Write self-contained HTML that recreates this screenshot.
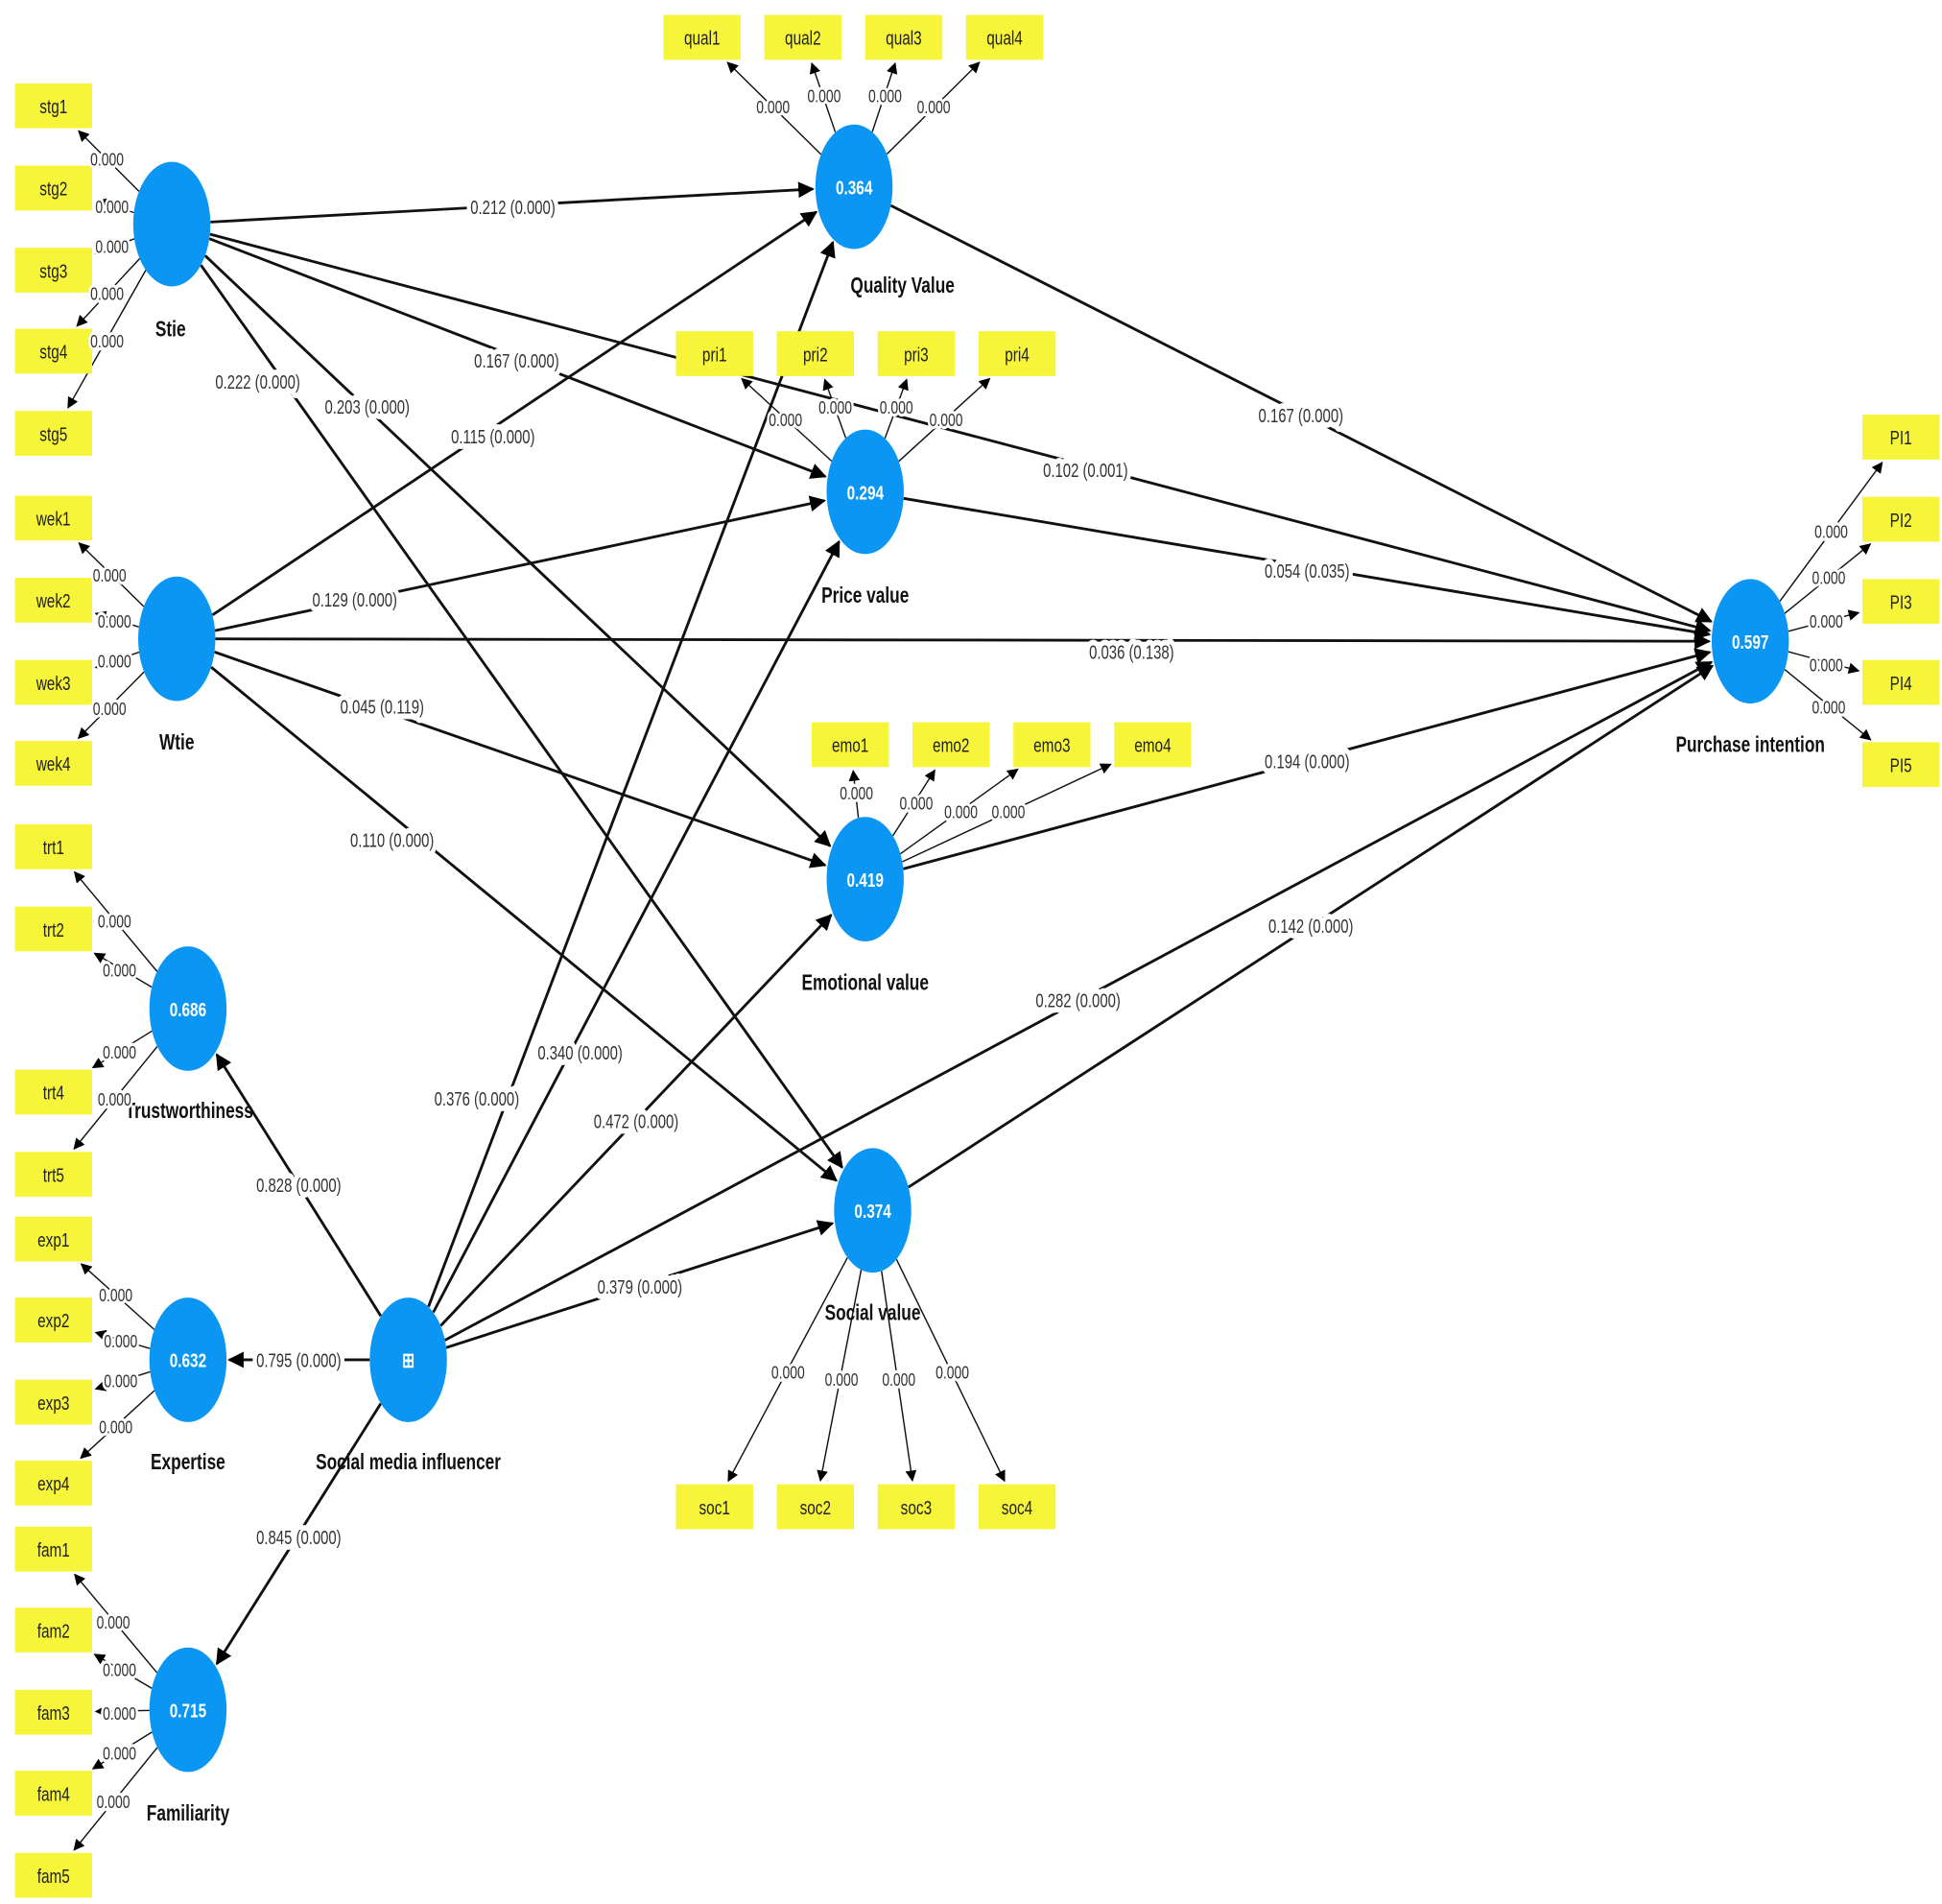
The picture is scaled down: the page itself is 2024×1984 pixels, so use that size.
<!DOCTYPE html>
<html><head><meta charset="utf-8">
<style>
html,body{margin:0;padding:0;background:#fff;}
svg{display:block;}
text{font-family:"Liberation Sans",sans-serif;transform-box:fill-box;transform-origin:center;transform:scaleX(0.74);}
.p{font-size:15.5px;fill:#333;stroke:#fff;stroke-width:9px;stroke-linejoin:round;paint-order:stroke;text-anchor:middle;}
.l{font-size:14.5px;fill:#333;stroke:#fff;stroke-width:5px;stroke-linejoin:round;paint-order:stroke;text-anchor:middle;}
.b{font-size:16px;fill:#222;text-anchor:middle;}
.n{font-size:18px;font-weight:bold;fill:#111;text-anchor:middle;}
.v{font-size:16px;font-weight:bold;fill:#fff;text-anchor:middle;}
</style></head><body>
<svg id="s" width="2024" height="1984" viewBox="0 0 1560 1529" preserveAspectRatio="none" xmlns="http://www.w3.org/2000/svg">
<defs><marker id="a" viewBox="0 0 10 10" refX="9" refY="5" markerWidth="9" markerHeight="9" markerUnits="userSpaceOnUse" orient="auto"><path d="M0,0L10,5L0,10z" fill="#000"/></marker>
<marker id="a2" viewBox="0 0 10 10" refX="9" refY="5" markerWidth="13" markerHeight="13" markerUnits="userSpaceOnUse" orient="auto"><path d="M0,0L10,5L0,10z" fill="#000"/></marker></defs>
<g id="lines"></g>
<g id="circles"></g>
<g id="boxes">
<rect x="12" y="67" width="62" height="36" fill="#f7f53a"/><text class="b" x="43" y="91">stg1</text>
<rect x="12" y="133" width="62" height="36" fill="#f7f53a"/><text class="b" x="43" y="157">stg2</text>
<rect x="12" y="199" width="62" height="36" fill="#f7f53a"/><text class="b" x="43" y="223">stg3</text>
<rect x="12" y="264" width="62" height="36" fill="#f7f53a"/><text class="b" x="43" y="288">stg4</text>
<rect x="12" y="330" width="62" height="36" fill="#f7f53a"/><text class="b" x="43" y="354">stg5</text>
<rect x="12" y="398" width="62" height="36" fill="#f7f53a"/><text class="b" x="43" y="422">wek1</text>
<rect x="12" y="464" width="62" height="36" fill="#f7f53a"/><text class="b" x="43" y="488">wek2</text>
<rect x="12" y="530" width="62" height="36" fill="#f7f53a"/><text class="b" x="43" y="554">wek3</text>
<rect x="12" y="595" width="62" height="36" fill="#f7f53a"/><text class="b" x="43" y="619">wek4</text>
<rect x="12" y="662" width="62" height="36" fill="#f7f53a"/><text class="b" x="43" y="686">trt1</text>
<rect x="12" y="728" width="62" height="36" fill="#f7f53a"/><text class="b" x="43" y="752">trt2</text>
<rect x="12" y="859" width="62" height="36" fill="#f7f53a"/><text class="b" x="43" y="883">trt4</text>
<rect x="12" y="925" width="62" height="36" fill="#f7f53a"/><text class="b" x="43" y="949">trt5</text>
<rect x="12" y="977" width="62" height="36" fill="#f7f53a"/><text class="b" x="43" y="1001">exp1</text>
<rect x="12" y="1042" width="62" height="36" fill="#f7f53a"/><text class="b" x="43" y="1066">exp2</text>
<rect x="12" y="1108" width="62" height="36" fill="#f7f53a"/><text class="b" x="43" y="1132">exp3</text>
<rect x="12" y="1173" width="62" height="36" fill="#f7f53a"/><text class="b" x="43" y="1197">exp4</text>
<rect x="12" y="1226" width="62" height="36" fill="#f7f53a"/><text class="b" x="43" y="1250">fam1</text>
<rect x="12" y="1291" width="62" height="36" fill="#f7f53a"/><text class="b" x="43" y="1315">fam2</text>
<rect x="12" y="1357" width="62" height="36" fill="#f7f53a"/><text class="b" x="43" y="1381">fam3</text>
<rect x="12" y="1422" width="62" height="36" fill="#f7f53a"/><text class="b" x="43" y="1446">fam4</text>
<rect x="12" y="1488" width="62" height="36" fill="#f7f53a"/><text class="b" x="43" y="1512">fam5</text>
<rect x="533" y="12" width="62" height="36" fill="#f7f53a"/><text class="b" x="564" y="36">qual1</text>
<rect x="614" y="12" width="62" height="36" fill="#f7f53a"/><text class="b" x="645" y="36">qual2</text>
<rect x="695" y="12" width="62" height="36" fill="#f7f53a"/><text class="b" x="726" y="36">qual3</text>
<rect x="776" y="12" width="62" height="36" fill="#f7f53a"/><text class="b" x="807" y="36">qual4</text>
<rect x="543" y="266" width="62" height="36" fill="#f7f53a"/><text class="b" x="574" y="290">pri1</text>
<rect x="624" y="266" width="62" height="36" fill="#f7f53a"/><text class="b" x="655" y="290">pri2</text>
<rect x="705" y="266" width="62" height="36" fill="#f7f53a"/><text class="b" x="736" y="290">pri3</text>
<rect x="786" y="266" width="62" height="36" fill="#f7f53a"/><text class="b" x="817" y="290">pri4</text>
<rect x="652" y="580" width="62" height="36" fill="#f7f53a"/><text class="b" x="683" y="604">emo1</text>
<rect x="733" y="580" width="62" height="36" fill="#f7f53a"/><text class="b" x="764" y="604">emo2</text>
<rect x="814" y="580" width="62" height="36" fill="#f7f53a"/><text class="b" x="845" y="604">emo3</text>
<rect x="895" y="580" width="62" height="36" fill="#f7f53a"/><text class="b" x="926" y="604">emo4</text>
<rect x="543" y="1192" width="62" height="36" fill="#f7f53a"/><text class="b" x="574" y="1216">soc1</text>
<rect x="624" y="1192" width="62" height="36" fill="#f7f53a"/><text class="b" x="655" y="1216">soc2</text>
<rect x="705" y="1192" width="62" height="36" fill="#f7f53a"/><text class="b" x="736" y="1216">soc3</text>
<rect x="786" y="1192" width="62" height="36" fill="#f7f53a"/><text class="b" x="817" y="1216">soc4</text>
<rect x="1496" y="333" width="62" height="36" fill="#f7f53a"/><text class="b" x="1527" y="357">PI1</text>
<rect x="1496" y="399" width="62" height="36" fill="#f7f53a"/><text class="b" x="1527" y="423">PI2</text>
<rect x="1496" y="465" width="62" height="36" fill="#f7f53a"/><text class="b" x="1527" y="489">PI3</text>
<rect x="1496" y="530" width="62" height="36" fill="#f7f53a"/><text class="b" x="1527" y="554">PI4</text>
<rect x="1496" y="596" width="62" height="36" fill="#f7f53a"/><text class="b" x="1527" y="620">PI5</text>
</g>
<g>
<text class="v" x="686" y="156">0.364</text>
<text class="v" x="695" y="401">0.294</text>
<text class="v" x="695" y="712">0.419</text>
<text class="v" x="701" y="978">0.374</text>
<text class="v" x="1406" y="521">0.597</text>
<text class="v" x="151" y="816">0.686</text>
<text class="v" x="151" y="1098">0.632</text>
<text class="v" x="151" y="1379">0.715</text>
<text class="v" x="328" y="1098">⊞</text>
<text class="n" x="137" y="270">Stie</text>
<text class="n" x="142" y="602">Wtie</text>
<text class="n" x="725" y="235">Quality Value</text>
<text class="n" x="695" y="484">Price value</text>
<text class="n" x="695" y="795">Emotional value</text>
<text class="n" x="701" y="1060">Social value</text>
<text class="n" x="1406" y="604">Purchase intention</text>
<text class="n" x="152" y="898">Trustworthiness</text>
<text class="n" x="151" y="1180">Expertise</text>
<text class="n" x="328" y="1180">Social media influencer</text>
<text class="n" x="151" y="1462">Familiarity</text>
</g>
<g>
<text class="p" x="412" y="172">0.212 (0.000)</text>
<text class="p" x="872" y="383">0.102 (0.001)</text>
<text class="p" x="415" y="295">0.167 (0.000)</text>
<text class="p" x="295" y="332">0.203 (0.000)</text>
<text class="p" x="207" y="312">0.222 (0.000)</text>
<text class="p" x="396" y="356">0.115 (0.000)</text>
<text class="p" x="285" y="487">0.129 (0.000)</text>
<text class="p" x="909" y="529">0.036 (0.138)</text>
<text class="p" x="307" y="573">0.045 (0.119)</text>
<text class="p" x="315" y="680">0.110 (0.000)</text>
<text class="p" x="1045" y="339">0.167 (0.000)</text>
<text class="p" x="1050" y="464">0.054 (0.035)</text>
<text class="p" x="1050" y="617">0.194 (0.000)</text>
<text class="p" x="1053" y="749">0.142 (0.000)</text>
<text class="p" x="866" y="809">0.282 (0.000)</text>
<text class="p" x="383" y="888">0.376 (0.000)</text>
<text class="p" x="466" y="851">0.340 (0.000)</text>
<text class="p" x="511" y="906">0.472 (0.000)</text>
<text class="p" x="514" y="1039">0.379 (0.000)</text>
<text class="p" x="240" y="957">0.828 (0.000)</text>
<text class="p" x="240" y="1098">0.795 (0.000)</text>
<text class="p" x="240" y="1240">0.845 (0.000)</text>
<text class="l" x="86" y="133">0.000</text><text class="l" x="90" y="171">0.000</text><text class="l" x="90" y="203">0.000</text><text class="l" x="86" y="241">0.000</text><text class="l" x="86" y="279">0.000</text>
<text class="l" x="88" y="467">0.000</text><text class="l" x="92" y="504">0.000</text><text class="l" x="92" y="536">0.000</text><text class="l" x="88" y="574">0.000</text>
<text class="l" x="92" y="745">0.000</text><text class="l" x="96" y="784">0.000</text><text class="l" x="96" y="850">0.000</text><text class="l" x="92" y="888">0.000</text>
<text class="l" x="93" y="1045">0.000</text><text class="l" x="97" y="1082">0.000</text><text class="l" x="97" y="1114">0.000</text><text class="l" x="93" y="1151">0.000</text>
<text class="l" x="91" y="1308">0.000</text><text class="l" x="96" y="1346">0.000</text><text class="l" x="96" y="1381">0.000</text><text class="l" x="96" y="1413">0.000</text><text class="l" x="91" y="1452">0.000</text>
<text class="l" x="621" y="91">0.000</text><text class="l" x="662" y="82">0.000</text><text class="l" x="711" y="82">0.000</text><text class="l" x="750" y="91">0.000</text>
<text class="l" x="631" y="342">0.000</text><text class="l" x="671" y="332">0.000</text><text class="l" x="720" y="332">0.000</text><text class="l" x="760" y="342">0.000</text>
<text class="l" x="688" y="642">0.000</text><text class="l" x="736" y="650">0.000</text><text class="l" x="772" y="657">0.000</text><text class="l" x="810" y="657">0.000</text>
<text class="l" x="633" y="1107">0.000</text><text class="l" x="676" y="1113">0.000</text><text class="l" x="722" y="1113">0.000</text><text class="l" x="765" y="1107">0.000</text>
<text class="l" x="1471" y="432">0.000</text><text class="l" x="1469" y="469">0.000</text><text class="l" x="1467" y="504">0.000</text><text class="l" x="1467" y="539">0.000</text><text class="l" x="1469" y="573">0.000</text>
</g>
</svg>
<script>
(function(){
var NS="http://www.w3.org/2000/svg";
var C={stie:[138,180],wtie:[142,513],qv:[686,150],pv:[695,395],ev:[695,706],sv:[701,972],pi:[1406,515],tr:[151,810],ex:[151,1092],smi:[328,1092],fa:[151,1373]};
var RX=31,RY=50;
function ed(ux,uy){return 1/Math.sqrt((ux/RX)*(ux/RX)+(uy/RY)*(uy/RY));}
var L=document.getElementById('lines'),G=document.getElementById('circles');
function line(x1,y1,x2,y2,w,m){var e=document.createElementNS(NS,'line');e.setAttribute('x1',x1);e.setAttribute('y1',y1);e.setAttribute('x2',x2);e.setAttribute('y2',y2);e.setAttribute('stroke','#111');e.setAttribute('stroke-width',w);e.setAttribute('marker-end','url(#'+m+')');L.appendChild(e);}
var P=[['stie','qv'],['stie','pi'],['stie','pv'],['stie','ev'],['stie','sv'],['wtie','qv'],['wtie','pv'],['wtie','pi'],['wtie','ev'],['wtie','sv'],['qv','pi'],['pv','pi'],['ev','pi'],['sv','pi'],['smi','pi'],['smi','qv'],['smi','pv'],['smi','ev'],['smi','sv'],['smi','tr'],['smi','ex'],['smi','fa']];
P.forEach(function(p){var a=C[p[0]],b=C[p[1]];var dx=b[0]-a[0],dy=b[1]-a[1],d=Math.hypot(dx,dy),ux=dx/d,uy=dy/d;var s=ed(ux,uy),t=ed(ux,uy)+2;line(a[0]+ux*s,a[1]+uy*s,b[0]-ux*t,b[1]-uy*t,2.2,'a2');});
var B={stie:[[43,85],[43,151],[43,217],[43,282],[43,348]],wtie:[[43,416],[43,482],[43,548],[43,613]],tr:[[43,680],[43,746],[43,877],[43,943]],ex:[[43,995],[43,1060],[43,1126],[43,1191]],fa:[[43,1244],[43,1309],[43,1375],[43,1440],[43,1506]],qv:[[564,30],[645,30],[726,30],[807,30]],pv:[[574,284],[655,284],[736,284],[817,284]],ev:[[683,598],[764,598],[845,598],[926,598]],sv:[[574,1210],[655,1210],[736,1210],[817,1210]],pi:[[1527,351],[1527,417],[1527,483],[1527,548],[1527,614]]};
for(var k in B){var a=C[k];B[k].forEach(function(b){var dx=b[0]-a[0],dy=b[1]-a[1],d=Math.hypot(dx,dy),ux=dx/d,uy=dy/d;var s=ed(ux,uy);var t=Math.min(31/Math.max(Math.abs(ux),1e-6),18/Math.max(Math.abs(uy),1e-6))+3;line(a[0]+ux*s,a[1]+uy*s,b[0]-ux*t,b[1]-uy*t,1.1,'a');});}
for(var k in C){var e=document.createElementNS(NS,'ellipse');e.setAttribute('cx',C[k][0]);e.setAttribute('cy',C[k][1]);e.setAttribute('rx',RX);e.setAttribute('ry',RY);e.setAttribute('fill','#0b96f4');G.appendChild(e);}
})();
</script>
</body></html>
